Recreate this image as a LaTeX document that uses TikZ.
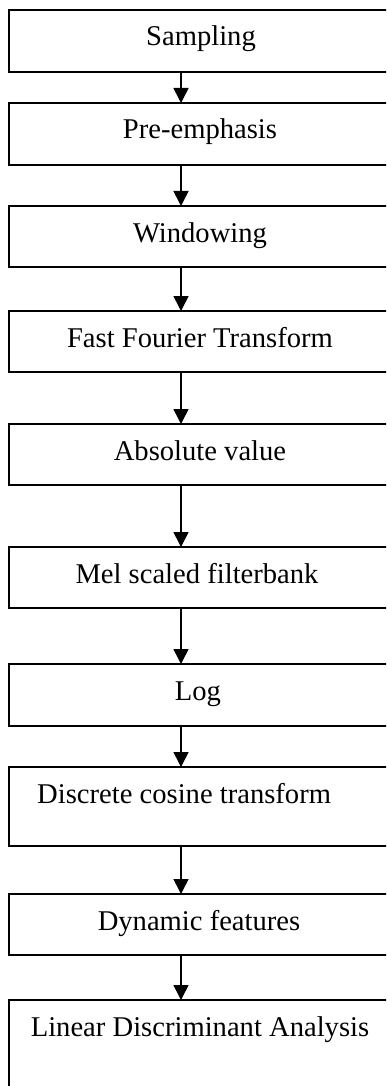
\documentclass[tikz,border=0pt]{standalone}
\usepackage{fontspec}
\setmainfont{Liberation Serif}
\usetikzlibrary{arrows.meta}
\begin{document}
\begin{tikzpicture}[x=1pt,y=-1pt,
  box/.style={draw,line width=1.8pt,minimum width=382pt,inner sep=0pt,outer sep=0pt,anchor=north west},
  lbl/.style={anchor=base,inner sep=0pt,font=\fontsize{28.6}{34}\selectfont},
  arr/.style={line width=1.6pt,-{Triangle[length=15pt,width=15pt]}}]
\useasboundingbox (0,0) rectangle (386,1086);
\clip (0,0) rectangle (386,1086);
\fill[white] (0,0) rectangle (386,1086);
\coordinate (ax) at (181,0);
\node[box,minimum height=62pt] (b1) at (9,10) {};
\node[box,minimum height=62pt] (b2) at (9,103) {};
\node[box,minimum height=61pt] (b3) at (9,206) {};
\node[box,minimum height=61pt] (b4) at (9,311) {};
\node[box,minimum height=61pt] (b5) at (9,424) {};
\node[box,minimum height=61pt] (b6) at (9,547) {};
\node[box,minimum height=62pt] (b7) at (9,664) {};
\node[box,minimum height=79pt] (b8) at (9,767) {};
\node[box,minimum height=61pt] (b9) at (9,894) {};
\node[box,minimum height=110pt] (b10) at (9,1000) {};
\node[lbl] (t1) at (201,46) {Sampling};
\node[lbl] (t2) at (200,139) {Pre-emphasis};
\node[lbl] (t3) at (200,242) {Windowing};
\node[lbl] (t4) at (200,347) {Fast Fourier Transform};
\node[lbl] (t5) at (200,460) {Absolute value};
\node[lbl] (t6) at (197,583) {Mel scaled filterbank};
\node[lbl] (t7) at (198,700) {Log};
\node[lbl,anchor=base west] (t8) at (37,803) {Discrete cosine transform};
\node[lbl] (t9) at (199,930) {Dynamic features};
\node[lbl] (t10) at (200,1036) {Linear Discriminant Analysis};
\draw[arr] (b1.south -| ax) -- (b2.north -| ax);
\draw[arr] (b2.south -| ax) -- (b3.north -| ax);
\draw[arr] (b3.south -| ax) -- (b4.north -| ax);
\draw[arr] (b4.south -| ax) -- (b5.north -| ax);
\draw[arr] (b5.south -| ax) -- (b6.north -| ax);
\draw[arr] (b6.south -| ax) -- (b7.north -| ax);
\draw[arr] (b7.south -| ax) -- (b8.north -| ax);
\draw[arr] (b8.south -| ax) -- (b9.north -| ax);
\draw[arr] (b9.south -| ax) -- (b10.north -| ax);
\end{tikzpicture}
\end{document}
